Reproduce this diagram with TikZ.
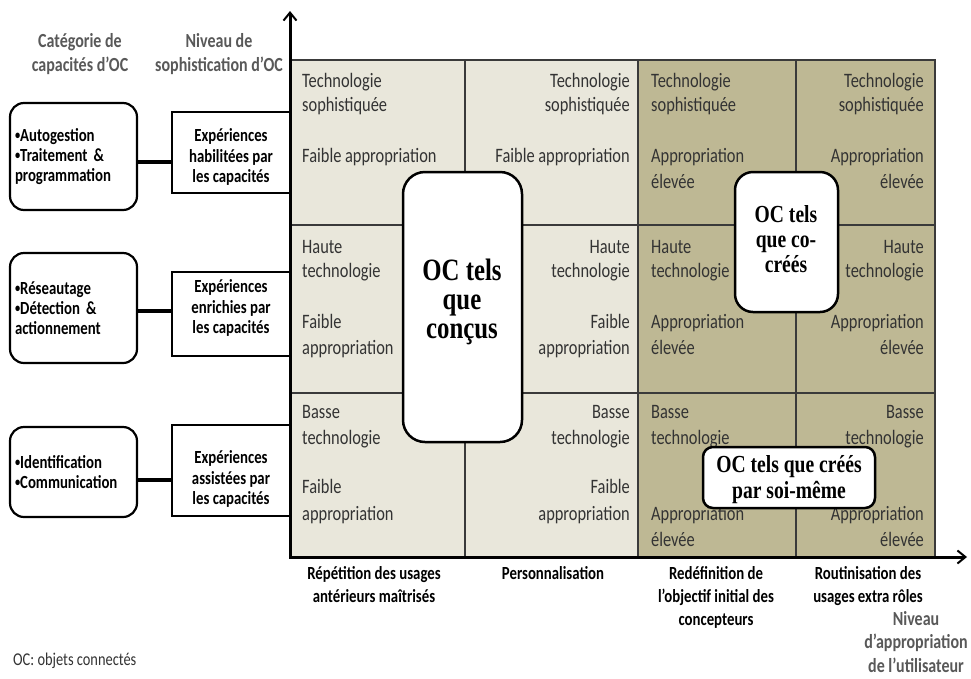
\documentclass[tikz,border=0pt]{standalone}
\usepackage{fontspec}
\setmainfont{Carlito}[FakeStretch=0.8]
\newfontfamily\serifbf{Liberation Serif}[FakeStretch=0.8]
\usetikzlibrary{arrows.meta}
\definecolor{lightcell}{HTML}{E9E7DB}
\definecolor{darkcell}{HTML}{BEB894}
\definecolor{celltxt}{HTML}{333333}
\definecolor{labgray}{HTML}{595959}
\definecolor{gridcol}{HTML}{3A3A3A}
\newcommand{\mybul}{{\fontsize{13}{13}\selectfont\raisebox{1.8pt}{•}}}
\begin{document}
\begin{tikzpicture}[x=1pt,y=-1pt,
  cell/.style={inner sep=0pt, text=celltxt, font=\fontsize{20.5}{25}\selectfont},
  lbl/.style={inner sep=0pt, align=center, text=black, font=\bfseries\fontsize{18.5}{23}\selectfont},
  graylbl/.style={inner sep=0pt, align=center, text=labgray, font=\bfseries\fontsize{20}{23.5}\selectfont},
  capbox/.style={draw, line width=2.2pt, rounded corners=14pt, fill=white, text width=117pt, inner sep=5pt, align=left, font=\bfseries\fontsize{18.5}{20}\selectfont},
  expbox/.style={draw, line width=1.5pt, fill=white, minimum width=118pt, inner sep=0pt},
  exptxt/.style={inner sep=0pt, align=center, font=\bfseries\fontsize{18.5}{20.5}\selectfont},
  ocbox/.style={draw, line width=2.5pt, fill=white, inner sep=0pt},
  octxt/.style={inner sep=0pt, align=center},
  link/.style={line width=4.5pt},
  axis/.style={line width=3pt, {Straight Barb[length=8pt,width=13pt,line width=2pt]}-{Straight Barb[length=8pt,width=13pt,line width=2pt]}},
  gridline/.style={line width=1.5pt, draw=gridcol},
]
\fill[white] (0,0) rectangle (971,678);
\useasboundingbox (0,0) rectangle (971,678);

% cells
\fill[lightcell] (290,60) rectangle (638,557);
\fill[darkcell] (638,60) rectangle (935,557);
\foreach \x in {465,638,796} \draw[gridline] (\x,60) -- (\x,557);
\foreach \y in {225,393} \draw[gridline] (290,\y) -- (935,\y);
\draw[line width=2pt, gridcol] (290,60) -- (935,60) -- (935,557);

% cell texts
\foreach \t/\x/\y/\a [count=\i] in {
  Technologie/302/87/west, sophistiquée/302/111/west, Faible appropriation/302/162/west,
  Technologie/630/87/east, sophistiquée/630/111/east, Faible appropriation/630/162/east,
  Technologie/651/87/west, sophistiquée/651/111/west, Appropriation/651/162/west, élevée/651/188/west,
  Technologie/924/87/east, sophistiquée/924/111/east, Appropriation/924/162/east, élevée/924/188/east,
  Haute/302/253/west, technologie/302/277/west, Faible/302/328/west, appropriation/302/354/west,
  Haute/630/253/east, technologie/630/277/east, Faible/630/328/east, appropriation/630/354/east,
  Haute/651/253/west, technologie/651/277/west, Appropriation/651/328/west, élevée/651/354/west,
  Haute/924/253/east, technologie/924/277/east, Appropriation/924/328/east, élevée/924/354/east,
  Basse/302/418/west, technologie/302/444/west, Faible/302/493/west, appropriation/302/520/west,
  Basse/630/418/east, technologie/630/444/east, Faible/630/493/east, appropriation/630/520/east,
  Basse/651/418/west, technologie/651/444/west, Appropriation/651/520/west, élevée/651/546/west,
  Basse/924/418/east, technologie/924/444/east, Appropriation/924/520/east, élevée/924/546/east}
  \node[cell, anchor=base \a] (cell\i) at (\x,\y) {\t};

% OC boxes
\node[ocbox, rounded corners=22pt, minimum width=119pt, minimum height=270pt] (concus) at (462.5,307) {};
\node[octxt, font=\serifbf\bfseries\fontsize{31}{29}\selectfont] (concust) at (462,302) {OC tels\\que\\conçus};
\node[ocbox, rounded corners=18pt, minimum width=103pt, minimum height=140pt] (cocrees) at (786.5,242) {};
\node[octxt, font=\serifbf\bfseries\fontsize{24.5}{25}\selectfont] (cocreest) at (786,239) {OC tels\\que co-\\créés};
\node[ocbox, rounded corners=10pt, minimum width=172pt, minimum height=61pt] (soi) at (789,477.5) {};
\node[octxt, font=\serifbf\bfseries\fontsize{24.5}{26}\selectfont] (soit) at (789,480) {OC tels que créés\\par soi-même};

% left capability boxes
\node[capbox, minimum height=107pt] (cap1) at (73.5,156.5) {\mybul Autogestion\\\mybul Traitement \&\\programmation};
\node[capbox, minimum height=110pt] (cap2) at (73.5,308) {\mybul Réseautage\\\mybul Détection \&\\actionnement};
\node[capbox, minimum height=90pt] (cap3) at (73.5,472) {\mybul Identification\\\mybul Communication};

% experience boxes
\node[expbox, minimum height=81pt] (exp1) at (231,152.5) {};
\node[exptxt] (exp1t) at (231,157) {Expériences\\habilitées par\\les capacités};
\node[expbox, minimum height=84pt] (exp2) at (231,314) {};
\node[exptxt] (exp2t) at (231,308) {Expériences\\enrichies par\\les capacités};
\node[expbox, minimum height=91pt] (exp3) at (231,470.5) {};
\node[exptxt] (exp3t) at (231,479) {Expériences\\assistées par\\les capacités};

% links
\coordinate (k1) at (0,162);
\coordinate (k2) at (0,311);
\coordinate (k3) at (0,480);
\draw[link] (cap1.east |- k1) -- (exp1.west |- k1);
\draw[link] (cap2.east |- k2) -- (exp2.west |- k2);
\draw[link] (cap3.east |- k3) -- (exp3.west |- k3);

% axes
\coordinate (ytip) at (290,11);
\coordinate (orig) at (290,557);
\coordinate (xtip) at (967,557);
\draw[axis] (ytip) -- (orig) -- (xtip);

% headings
\node[graylbl] (cat) at (80,54) {Catégorie de\\capacités d’OC};
\node[graylbl] (niv) at (219,54) {Niveau de\\sophistication d’OC};

% x labels
\node[lbl, anchor=north] (x1) at (374,566) {Répétition des usages\\antérieurs maîtrisés};
\node[lbl, anchor=north] (x2) at (553,566) {Personnalisation};
\node[lbl, anchor=north] (x3) at (716,566) {Redéfinition de\\l’objectif initial des\\concepteurs};
\node[lbl, anchor=north] (x4) at (868,566) {Routinisation des\\usages extra rôles};
\node[graylbl, anchor=north] (xaxis) at (916,611) {Niveau\\d’appropriation\\de l’utilisateur};

\node[anchor=base west, inner sep=0pt, text=celltxt, font=\fontsize{18}{20}\selectfont] (note) at (13,665) {OC: objets connectés};
\end{tikzpicture}
\end{document}
